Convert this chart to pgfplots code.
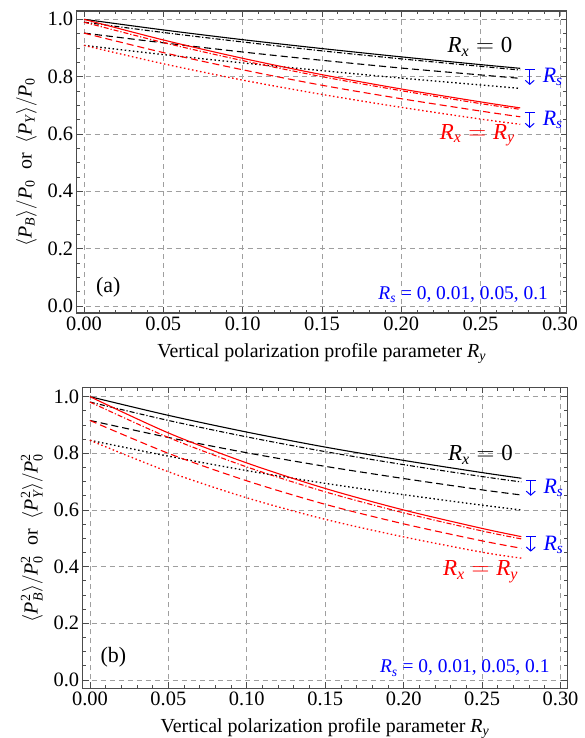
\documentclass[border=0pt]{standalone}
\usepackage{amsmath}
\usepackage{fontspec}
\setmainfont{Liberation Serif}
\usepackage{pgfplots}
\pgfplotsset{compat=1.18}
\usetikzlibrary{arrows.meta}

\newcommand{\tv}[1]{\textit{#1}}

\tikzset{
  rsarrow/.style={blue, line width=1bp, {Bar[width=10bp]}-{Straight Barb[length=4bp,width=9bp]}},
}

\pgfplotsset{
  panel/.style={
    scale only axis,
    clip=false,
    xmin=-0.0046, xmax=0.3043,
    xtick={0,0.05,0.10,0.15,0.20,0.25,0.30},
    ytick={0,0.2,0.4,0.6,0.8,1.0},
    minor x tick num=4,
    minor y tick num=3,
    tick align=inside,
    major tick length=6bp,
    minor tick length=3.5bp,
    every tick/.style={black!70, line width=0.8bp},
    axis line style={black!70, line width=1.2bp},
    grid=major,
    major grid style={gray!75, line width=0.7bp, dash pattern=on 5bp off 4bp},
    /pgf/number format/assume math mode=true,
    xticklabel style={font=\fontsize{20.5}{22}\selectfont,
      /pgf/number format/.cd, fixed, fixed zerofill, precision=2},
    yticklabel style={font=\fontsize{20.5}{22}\selectfont,
      /pgf/number format/.cd, fixed, fixed zerofill, precision=1},
    xlabel style={font=\fontsize{20}{22}\selectfont, yshift=-6bp},
    ylabel style={font=\fontsize{20}{22}\selectfont, yshift=4bp},
    xlabel={Vertical polarization profile parameter $\tv{R}_{\tv{y}}$},
  },
  rs0/.style={line width=1.1bp},
  rs1/.style={line width=1.1bp, dash pattern=on 5bp off 2bp on 1.2bp off 2bp},
  rs2/.style={line width=1.1bp, dash pattern=on 7bp off 4bp},
  rs3/.style={line width=1.3bp, dash pattern=on 1.5bp off 2.6bp},
}

\begin{document}
\begin{tikzpicture}
\path[use as bounding box] (-76.7bp,-425bp) rectangle (508.3bp,313bp);

% (a) polarization
\begin{axis}[panel,
  at={(0,0)}, anchor=south west,
  width=490bp, height=302bp,
  ymin=-0.0244, ymax=1.029,
  ylabel={$\langle\tv{P}_{\tv{B}}\rangle/\tv{P}_{\text{0}}$\ \ or\ \ $\langle\tv{P}_{\tv{Y}}\rangle/\tv{P}_{\text{0}}$},
]
  % R_x = 0
  \addplot[black, rs0, smooth] coordinates {
    (0,1.000) (0.05,0.963) (0.10,0.929) (0.15,0.898) (0.20,0.869) (0.25,0.842) (0.275,0.829)};
  \addplot[black, rs1, smooth] coordinates {
    (0,0.990) (0.05,0.954) (0.10,0.921) (0.15,0.890) (0.20,0.862) (0.25,0.836) (0.275,0.823)};
  \addplot[black, rs2, smooth] coordinates {
    (0,0.952) (0.05,0.918) (0.10,0.886) (0.15,0.857) (0.20,0.830) (0.25,0.806) (0.275,0.794)};
  \addplot[black, rs3, smooth] coordinates {
    (0,0.909) (0.05,0.877) (0.10,0.848) (0.15,0.821) (0.20,0.795) (0.25,0.771) (0.275,0.759)};
  % R_x = R_y
  \addplot[red, rs0, smooth] coordinates {
    (0,1.000) (0.05,0.928) (0.10,0.864) (0.15,0.807) (0.20,0.757) (0.25,0.712) (0.275,0.691)};
  \addplot[red, rs1, smooth] coordinates {
    (0,0.990) (0.05,0.919) (0.10,0.856) (0.15,0.800) (0.20,0.751) (0.25,0.706) (0.275,0.686)};
  \addplot[red, rs2, smooth] coordinates {
    (0,0.952) (0.05,0.884) (0.10,0.824) (0.15,0.770) (0.20,0.723) (0.25,0.680) (0.275,0.660)};
  \addplot[red, rs3, smooth] coordinates {
    (0,0.909) (0.05,0.845) (0.10,0.788) (0.15,0.738) (0.20,0.693) (0.25,0.652) (0.275,0.634)};

  \node[font=\fontsize{23}{24}\selectfont] at (axis cs:0.2496,0.903) {$\tv{R}_{\tv{x}}=\text{0}$};
  \node[red, font=\fontsize{23}{24}\selectfont] at (axis cs:0.248,0.596) {$\tv{R}_{\tv{x}}=\tv{R}_{\tv{y}}$};
  \draw[rsarrow] (axis cs:0.281,0.826) -- (axis cs:0.281,0.771);
  \draw[rsarrow] (axis cs:0.281,0.677) -- (axis cs:0.281,0.621);
  \node[blue, font=\fontsize{22}{24}\selectfont] at (axis cs:0.2955,0.798) {$\tv{R}_{\tv{s}}$};
  \node[blue, font=\fontsize{22}{24}\selectfont] at (axis cs:0.2955,0.649) {$\tv{R}_{\tv{s}}$};
  \node[font=\fontsize{22}{24}\selectfont] at (axis cs:0.0153,0.0645) {(a)};
  \node[blue, anchor=east, font=\fontsize{19.5}{21}\selectfont] at (axis cs:0.2947,0.04) {$\tv{R}_{\tv{s}}$ = 0, 0.01, 0.05, 0.1};
\end{axis}

% (b) squared polarization
\begin{axis}[panel,
  at={(6bp,-375.3bp)}, anchor=south west,
  width=484.6bp, height=301bp,
  ymin=-0.0293, ymax=1.033,
  ylabel={$\langle\tv{P}_{\tv{B}}^{\text{2}}\rangle/\tv{P}_{\text{0}}^{\text{2}}$\ \ or\ \ $\langle\tv{P}_{\tv{Y}}^{\text{2}}\rangle/\tv{P}_{\text{0}}^{\text{2}}$},
]
  % R_x = 0
  \addplot[black, rs0, smooth] coordinates {
    (0,1.000) (0.05,0.934) (0.10,0.875) (0.15,0.822) (0.20,0.775) (0.25,0.732) (0.275,0.712)};
  \addplot[black, rs1, smooth] coordinates {
    (0,0.981) (0.05,0.916) (0.10,0.858) (0.15,0.806) (0.20,0.760) (0.25,0.718) (0.275,0.699)};
  \addplot[black, rs2, smooth] coordinates {
    (0,0.916) (0.05,0.856) (0.10,0.802) (0.15,0.754) (0.20,0.711) (0.25,0.671) (0.275,0.653)};
  \addplot[black, rs3, smooth] coordinates {
    (0,0.846) (0.05,0.790) (0.10,0.739) (0.15,0.694) (0.20,0.654) (0.25,0.617) (0.275,0.600)};
  % R_x = R_y
  \addplot[red, rs0, smooth] coordinates {
    (0,1.000) (0.05,0.872) (0.10,0.766) (0.15,0.676) (0.20,0.600) (0.25,0.535) (0.275,0.506)};
  \addplot[red, rs1, smooth] coordinates {
    (0,0.981) (0.05,0.856) (0.10,0.752) (0.15,0.664) (0.20,0.590) (0.25,0.526) (0.275,0.498)};
  \addplot[red, rs2, smooth] coordinates {
    (0,0.916) (0.05,0.800) (0.10,0.703) (0.15,0.620) (0.20,0.551) (0.25,0.491) (0.275,0.465)};
  \addplot[red, rs3, smooth] coordinates {
    (0,0.846) (0.05,0.735) (0.10,0.643) (0.15,0.567) (0.20,0.505) (0.25,0.451) (0.275,0.430)};

  \node[font=\fontsize{23}{24}\selectfont] at (axis cs:0.249,0.794) {$\tv{R}_{\tv{x}}=\text{0}$};
  \node[red, font=\fontsize{23}{24}\selectfont] at (axis cs:0.249,0.381) {$\tv{R}_{\tv{x}}=\tv{R}_{\tv{y}}$};
  \draw[rsarrow] (axis cs:0.281,0.706) -- (axis cs:0.281,0.650);
  \draw[rsarrow] (axis cs:0.281,0.508) -- (axis cs:0.281,0.453);
  \node[blue, font=\fontsize{22}{24}\selectfont] at (axis cs:0.2955,0.677) {$\tv{R}_{\tv{s}}$};
  \node[blue, font=\fontsize{22}{24}\selectfont] at (axis cs:0.2955,0.477) {$\tv{R}_{\tv{s}}$};
  \node[font=\fontsize{22}{24}\selectfont] at (axis cs:0.0149,0.079) {(b)};
  \node[blue, anchor=east, font=\fontsize{19.5}{21}\selectfont] at (axis cs:0.2952,0.042) {$\tv{R}_{\tv{s}}$ = 0, 0.01, 0.05, 0.1};
\end{axis}
\end{tikzpicture}
\end{document}
